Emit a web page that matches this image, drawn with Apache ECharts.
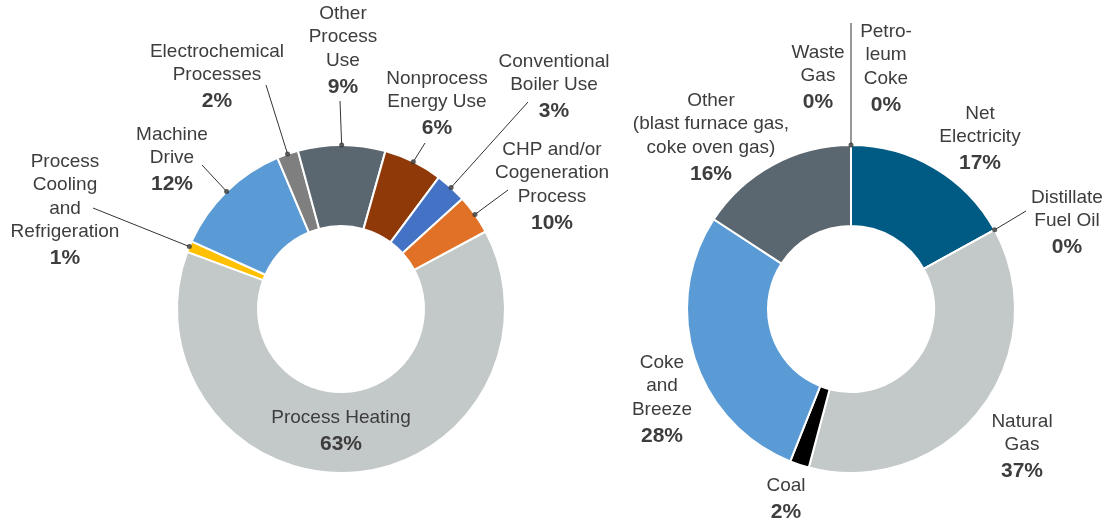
<!DOCTYPE html>
<html>
<head>
<meta charset="utf-8">
<script src="https://cdn.jsdelivr.net/npm/echarts@6/dist/echarts.min.js"></script>
<style>
  html, body { margin: 0; padding: 0; background: #fff; }
  #chart { width: 1107px; height: 522px; }
</style>
</head>
<body>
<div id="chart"></div>
<script>
// left donut, clockwise from the start of Process Heating
const leftNames = ['Process Heating', 'Process\nCooling\nand\nRefrigeration', 'Machine\nDrive', 'Electrochemical\nProcesses',
  'Other\nProcess\nUse', 'Nonprocess\nEnergy Use', 'Conventional\nBoiler Use', 'CHP and/or\nCogeneration\nProcess'];
const leftValues = [63.5, 1.1, 11.9, 2.1, 8.6, 5.8, 3.1, 3.9];
const leftPct = ['63%', '1%', '12%', '2%', '9%', '6%', '3%', '10%'];

// right donut, clockwise from the top
const rightNames = ['Petro-\nleum\nCoke', 'Net\nElectricity', 'Distillate\nFuel Oil', 'Natural\nGas', 'Coal',
  'Coke\nand\nBreeze', 'Other\n(blast furnace gas,\ncoke oven gas)', 'Waste\nGas'];
const rightValues = [0, 17, 0, 37.2, 1.9, 28.2, 15.8, 0];
const rightPct = ['0%', '17%', '0%', '37%', '2%', '28%', '16%', '0%'];

const leftColors = ['#c3c8c8', '#ffc000', '#5b9bd5', '#7f7f7f', '#5b6770', '#8e3907', '#4472c4', '#e07126'];
const rightColors = ['#5b6770', '#005b84', '#c3c8c8', '#c3c8c8', '#000000', '#5b9bd5', '#5b6770', '#5b6770'];

// label block centre x, top y and leader line end (null = no leader)
const leftLayout = [
  [341, 406, null], [65, 150, [93, 208]], [172, 123, [202, 165]], [217, 40, [266, 85]],
  [343, 2, [340, 101]], [437, 67, [425, 143]], [554, 50, [528, 102]], [552, 138, [508, 190]]
];
const rightLayout = [
  [886, 20, [851, 23]], [980, 102, null], [1067, 186, [1026, 211]], [1022, 410, null],
  [786, 474, null], [662, 351, null], [711, 89, null], [818, 41, null]
];

const leftDots = [1, 2, 3, 4, 5, 6, 7];
const rightDots = [0, 2];

const sum = arr => arr.reduce((a, b) => a + b, 0);
const mids = arr => { let acc = 0; return arr.map(v => { const m = acc + v / 2; acc += v; return m; }); };

const textStyle = {
  n: { fontSize: 19, lineHeight: 23.5, color: '#3d3d3d', fontFamily: 'Liberation Sans' },
  p: { fontSize: 21, lineHeight: 29, color: '#3d3d3d', fontFamily: 'Liberation Sans', fontWeight: 'bold' }
};

function pieSeries(center, startAngle, names, values, pct, colors, layout) {
  return {
    type: 'pie',
    center: center,
    radius: [83, 164],
    startAngle: startAngle,
    clockwise: true,
    avoidLabelOverlap: false,
    silent: true,
    itemStyle: { borderColor: '#fff', borderWidth: 2 },
    label: {
      show: true,
      position: 'outside',
      formatter: p => '{n|' + p.name + '}\n{p|' + pct[p.dataIndex] + '}',
      rich: textStyle
    },
    labelLine: { show: true, lineStyle: { color: '#333', width: 1 } },
    labelLayout: params => {
      const L = layout[params.dataIndex];
      const res = { x: L[0], y: L[1], align: 'center', verticalAlign: 'top' };
      if (L[2] && params.labelLinePoints) {
        res.labelLinePoints = [params.labelLinePoints[0], L[2]];
      }
      return res;
    },
    data: names.map((n, i) => ({
      name: n,
      value: values[i],
      itemStyle: { color: colors[i] },
      labelLine: { show: !!layout[i][2] }
    }))
  };
}

const leftMid = mids(leftValues);
const rightMid = mids(rightValues);

const chart = echarts.init(document.getElementById('chart'));
chart.setOption({
  animation: false,
  polar: [
    { center: [341, 309], radius: 164 },
    { center: [851, 309], radius: 164 }
  ],
  angleAxis: [
    { polarIndex: 0, type: 'value', min: 0, max: sum(leftValues), startAngle: 28.2, show: false },
    { polarIndex: 1, type: 'value', min: 0, max: sum(rightValues), startAngle: 90, show: false }
  ],
  radiusAxis: [
    { polarIndex: 0, min: 0, max: 1, show: false },
    { polarIndex: 1, min: 0, max: 1, show: false }
  ],
  series: [
    pieSeries([341, 309], 28.2, leftNames, leftValues, leftPct, leftColors, leftLayout),
    pieSeries([851, 309], 90, rightNames, rightValues, rightPct, rightColors, rightLayout),
    {
      type: 'scatter', coordinateSystem: 'polar', polarIndex: 0, silent: true,
      symbolSize: 5, itemStyle: { color: '#333' }, z: 5,
      data: leftDots.map(i => [1, leftMid[i]])
    },
    {
      type: 'scatter', coordinateSystem: 'polar', polarIndex: 1, silent: true,
      symbolSize: 5, itemStyle: { color: '#333' }, z: 5,
      data: rightDots.map(i => [1, rightMid[i]])
    }
  ]
});
</script>
</body>
</html>
